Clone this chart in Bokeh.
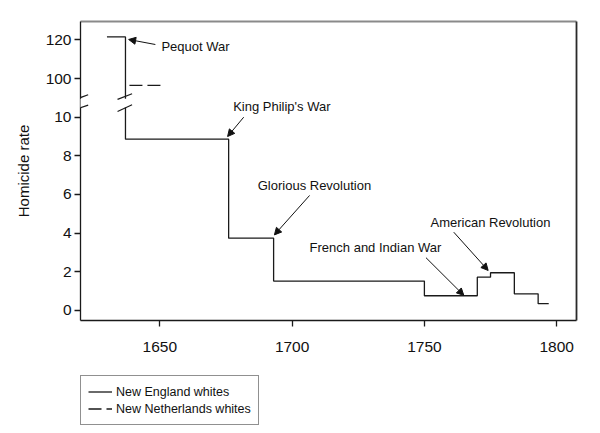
from bokeh.plotting import figure
from bokeh.layouts import column
from bokeh.models import (ColumnDataSource, FixedTicker, LinearAxis, Range1d,
                          Arrow, NormalHead, BoxAnnotation, Legend, LegendItem)
from bokeh.embed import file_html
from bokeh.resources import INLINE
from bokeh.core.properties import value

# ---------------- data ----------------
ne_years = [1630, 1637, 1676, 1693, 1750, 1770, 1775, 1784, 1793, 1797]
ne_rates = [121.5, 8.86, 3.74, 1.52, 0.76, 1.72, 1.95, 0.86, 0.35, 0.35]
nn_years = [1638.5, 1651.5]
nn_rates = [96.4, 96.4]
x_ticks = [1650, 1700, 1750, 1800]
y_tick_values = [0, 2, 4, 6, 8, 10, 100, 120]
series_names = ["New England whites", "New Netherlands whites"]
event_labels = ["Pequot War", "King Philip's War", "Glorious Revolution",
                "French and Indian War", "American Revolution"]

# annotation placement (display coordinates of the broken axis)
label_x = [1650.6, 1677.7, 1687.0, 1706.6, 1752.3]
label_y = [13.67, 10.55, 6.47, 3.27, 4.54]
arrow_x0 = [1648.3, 1681.7, 1706.6, 1750.6, 1761.1]
arrow_y0 = [13.76, 10.0, 5.95, 2.73, 4.05]
arrow_x1 = [1638.2, 1675.6, 1693.3, 1764.9, 1774.1]
arrow_y1 = [14.02, 9.0, 3.91, 0.78, 2.07]

# broken y axis: 0..10.5 linear, above that value/10 + 2
LOWER_TOP = 10.5


def disp(v):
    return v if v <= LOWER_TOP else v / 10.0 + 2.0


FONT = "Liberation Sans"
INK = "#1a1a1a"
NE_STYLE = dict(line_color=INK, line_width=1.3)
NN_STYLE = dict(line_color=INK, line_width=1.3, line_dash="13 5")

p = figure(width=600, height=365,
           x_range=Range1d(1620, 1807.5), y_range=Range1d(-0.52, 14.95),
           output_backend="svg", toolbar_location=None,
           min_border_left=80, min_border_right=24,
           min_border_top=21, min_border_bottom=45)
p.xgrid.grid_line_color = None
p.ygrid.grid_line_color = None
p.outline_line_color = None
p.background_fill_color = "white"
p.border_fill_color = "white"

for ax in (p.xaxis[0], p.yaxis[0]):
    ax.axis_line_color = INK
    ax.axis_line_width = 1.3
    ax.major_tick_line_color = INK
    ax.major_tick_line_width = 1.3
    ax.major_tick_out = 6
    ax.major_tick_in = 0
    ax.minor_tick_line_color = None
    ax.major_label_text_font = FONT
    ax.major_label_text_font_size = "15.5px"
    ax.major_label_text_color = "#111111"

p.xaxis.ticker = FixedTicker(ticks=x_ticks)
p.xaxis.major_label_standoff = 15

ytick_pos = [disp(v) for v in y_tick_values]
p.yaxis.ticker = FixedTicker(ticks=ytick_pos)
p.yaxis.major_label_overrides = {pos: str(v) for pos, v in zip(ytick_pos, y_tick_values)}
p.yaxis.major_label_standoff = 3
p.yaxis.axis_label = "Homicide rate"
p.yaxis.axis_label_text_font = FONT
p.yaxis.axis_label_text_font_size = "15px"
p.yaxis.axis_label_text_font_style = "normal"
p.yaxis.axis_label_text_color = "#111111"
p.yaxis.axis_label_standoff = 11

# frame: dark right edge, grey top edge
right_ax = LinearAxis(ticker=FixedTicker(ticks=[]), axis_line_color="#2a2a2a",
                      axis_line_width=1.8, major_tick_line_color=None,
                      minor_tick_line_color=None, major_label_text_color=None)
p.add_layout(right_ax, "right")
top_ax = LinearAxis(ticker=FixedTicker(ticks=[]), axis_line_color="#8a8a8a",
                    axis_line_width=2, major_tick_line_color=None,
                    minor_tick_line_color=None, major_label_text_color=None)
p.add_layout(top_ax, "above")

# series
ne = p.step(ne_years, [disp(v) for v in ne_rates], mode="after", **NE_STYLE)
nn = p.line(nn_years, [disp(v) for v in nn_rates], **NN_STYLE)

# event labels and arrows
p.text(x=label_x, y=label_y, text=event_labels, text_font=value(FONT),
       text_font_size="13px", text_baseline="middle", text_align="left",
       text_color="#111111")
arr_src = ColumnDataSource(dict(x0=arrow_x0, y0=arrow_y0, x1=arrow_x1, y1=arrow_y1))
p.add_layout(Arrow(end=NormalHead(size=7, fill_color="#111111", line_color="#111111",
                                  line_width=1),
                   x_start="x0", y_start="y0", x_end="x1", y_end="y1",
                   source=arr_src, line_color="#111111", line_width=1))

# axis break
p.add_layout(BoxAnnotation(left=1616.5, right=1641, bottom=10.5, top=10.95,
                           fill_color="white", fill_alpha=1, line_color=None,
                           level="overlay"))
brk_src = ColumnDataSource(dict(
    x0=[1617.7, 1617.7, 1634.0, 1634.0],
    y0=[10.90, 10.38, 10.92, 10.29],
    x1=[1622.9, 1622.9, 1639.5, 1639.5],
    y1=[11.16, 10.62, 11.21, 10.64]))
p.add_layout(Arrow(end=None, x_start="x0", y_start="y0", x_end="x1", y_end="y1",
                   source=brk_src, line_color=INK, line_width=1.2, level="overlay"))

# legend strip below the plot (its key renderers hold the same series,
# which lie outside this strip's view so only the legend shows)
lg = figure(width=600, height=68, x_range=Range1d(0, 1), y_range=Range1d(0, 1),
            x_axis_type=None, y_axis_type=None, output_backend="svg",
            toolbar_location=None, min_border=0)
lg.xgrid.grid_line_color = None
lg.ygrid.grid_line_color = None
lg.outline_line_color = None
lg.background_fill_color = "white"
lg.border_fill_color = "white"
ne_key = lg.step(ne_years, ne_rates, mode="after", **NE_STYLE)
nn_key = lg.line(nn_years, nn_rates, **NN_STYLE)
legend = Legend(items=[LegendItem(label=series_names[0], renderers=[ne_key]),
                       LegendItem(label=series_names[1], renderers=[nn_key])],
                location=(0, 8), orientation="vertical",
                label_text_font=FONT, label_text_font_size="12.5px",
                label_text_color="#111111",
                label_height=17, glyph_height=17, glyph_width=24,
                label_standoff=4, padding=7, spacing=0, margin=0,
                border_line_color="#222222", border_line_width=1.2,
                background_fill_color="white", background_fill_alpha=1)
lg.add_layout(legend)

page = column(p, lg, spacing=0)
open("out.html", "w").write(file_html(page, INLINE))
